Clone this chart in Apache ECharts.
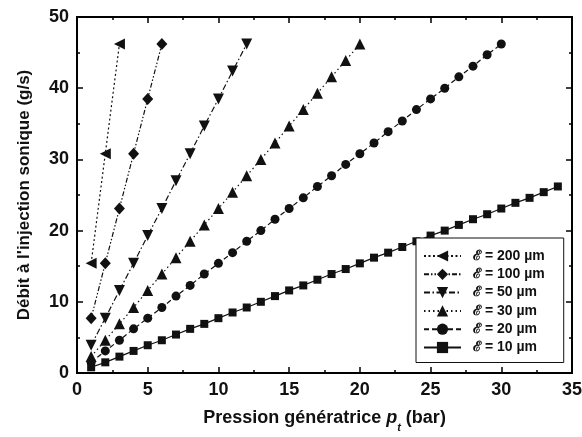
<!DOCTYPE html>
<html><head><meta charset="utf-8">
<script src="https://cdn.jsdelivr.net/npm/echarts@6/dist/echarts.min.js"></script>
<style>html,body{margin:0;padding:0;background:#fff}#c{width:582px;height:437px}</style>
</head><body><div id="c"></div>
<script>
const pressure = [1,2,3,4,5,6,7,8,9,10,11,12,13,14,15,16,17,18,19,20,21,22,23,24,25,26,27,28,29,30,31,32,33,34];
const e10 = [0.8,1.5,2.3,3.1,3.9,4.6,5.4,6.2,6.9,7.7,8.5,9.2,10.0,10.8,11.6,12.3,13.1,13.9,14.6,15.4,16.2,16.9,17.7,18.5,19.3,20.0,20.8,21.6,22.3,23.1,23.9,24.6,25.4,26.2];
const e20 = [1.5,3.1,4.6,6.2,7.7,9.2,10.8,12.3,13.9,15.4,16.9,18.5,20.0,21.6,23.1,24.6,26.2,27.7,29.3,30.8,32.3,33.9,35.4,37.0,38.5,40.0,41.6,43.1,44.7,46.2];
const e30 = [2.3,4.6,6.9,9.2,11.6,13.9,16.2,18.5,20.8,23.1,25.4,27.7,30.0,32.3,34.7,37.0,39.3,41.6,43.9,46.2];
const e50 = [3.9,7.7,11.6,15.4,19.3,23.1,27.0,30.8,34.7,38.5,42.4,46.2];
const e100 = [7.7,15.4,23.1,30.8,38.5,46.2];
const e200 = [15.4,30.8,46.2];
const seriesNames = ['ℰ = 200 µm','ℰ = 100 µm','ℰ = 50 µm','ℰ = 30 µm','ℰ = 20 µm','ℰ = 10 µm'];
const xTicks = [0,5,10,15,20,25,30,35];
const yTicks = [0,10,20,30,40,50];

const C = '#111111';
const pairs = v => v.map((y,i)=>[pressure[i], y]);
const specs = [
  {d:e200, sym:'triangle', rot:90, size:11, dash:[2,2.5]},
  {d:e100, sym:'diamond', rot:0, size:[11,12], dash:[5,2,1.5,2,1.5,2]},
  {d:e50, sym:'triangle', rot:180, size:11, dash:[6,2.5,1.5,2.5]},
  {d:e30, sym:'triangle', rot:0, size:11, dash:[1.5,3]},
  {d:e20, sym:'circle', rot:0, size:9, dash:[5,3]},
  {d:e10, sym:'rect', rot:0, size:8, dash:'solid'}
];
const series = specs.map((s,i)=>({
  name: seriesNames[i], type:'line', data: pairs(s.d),
  symbol: s.sym, symbolRotate: s.rot, symbolSize: s.size, showSymbol:true,
  itemStyle:{color:C}, lineStyle:{color:C, width:1.2, type:s.dash},
  animation:false, z: 3
}));
series.push({name:'_frame', type:'line', xAxisIndex:1, yAxisIndex:1, data:[], silent:true});
const font = 'Liberation Sans';
const chart = echarts.init(document.getElementById('c'), null, {renderer:'canvas'});
const mkLine = () => ({show:true, onZero:false, lineStyle:{color:'#000000', width:2}});
const mkTick = () => ({show:true, inside:true, length:6, lineStyle:{color:'#000000', width:1.5}});
const mkMinor = () => ({show:true, splitNumber:2, length:3, lineStyle:{color:'#000000', width:1.5}});
chart.setOption({
  backgroundColor:'#fff',
  animation:false,
  grid:{left:77, right:10, top:17, bottom:64, outerBoundsMode:'none', show:true, borderColor:'#000000', borderWidth:2, backgroundColor:'rgba(0,0,0,0)', z:5},
  legend:{
    orient:'vertical', left:416, top:238,
    backgroundColor:'#fff', borderColor:C, borderWidth:1, borderRadius:0,
    padding:[11,19,8,7], itemGap:4.3, itemWidth:37, itemHeight:14,
    textStyle:{fontFamily:font, fontWeight:'bold', fontSize:14, color:C, padding:[0,0,0,7]},
    data: seriesNames
  },
  xAxis:[{
    type:'value', min:xTicks[0], max:xTicks[xTicks.length-1], interval:5,
    name:'Pression génératrice {i|p}{s|t} (bar)', nameLocation:'middle', nameGap:30,
    nameTextStyle:{fontFamily:font, fontWeight:'bold', fontSize:18, color:C,
      rich:{i:{fontFamily:font, fontWeight:'bold', fontStyle:'italic', fontSize:18, color:C},
            s:{fontFamily:font, fontWeight:'bold', fontStyle:'italic', fontSize:11, color:C, verticalAlign:'bottom', lineHeight:30}}},
    axisLine:mkLine(), axisTick:mkTick(), minorTick:mkMinor(), splitLine:{show:false},
    axisLabel:{fontFamily:font, fontWeight:'bold', fontSize:18, color:C, margin:8}
  },{
    type:'value', position:'top', min:xTicks[0], max:xTicks[xTicks.length-1], interval:5,
    axisLine:mkLine(), axisTick:mkTick(), minorTick:mkMinor(),
    axisLabel:{show:false}, splitLine:{show:false}
  }],
  yAxis:[{
    type:'value', min:yTicks[0], max:yTicks[yTicks.length-1], interval:10,
    name:"Débit à l'injection sonique (g/s)", nameLocation:'middle', nameGap:44, nameRotate:90,
    nameTextStyle:{fontFamily:font, fontWeight:'bold', fontSize:17, color:C},
    axisLine:mkLine(), axisTick:mkTick(), minorTick:mkMinor(), splitLine:{show:false},
    axisLabel:{fontFamily:font, fontWeight:'bold', fontSize:18, color:C, margin:8}
  },{
    type:'value', position:'right', min:yTicks[0], max:yTicks[yTicks.length-1], interval:10,
    axisLine:mkLine(), axisTick:mkTick(), minorTick:mkMinor(),
    axisLabel:{show:false}, splitLine:{show:false}
  }],
  series
});
</script></body></html>
